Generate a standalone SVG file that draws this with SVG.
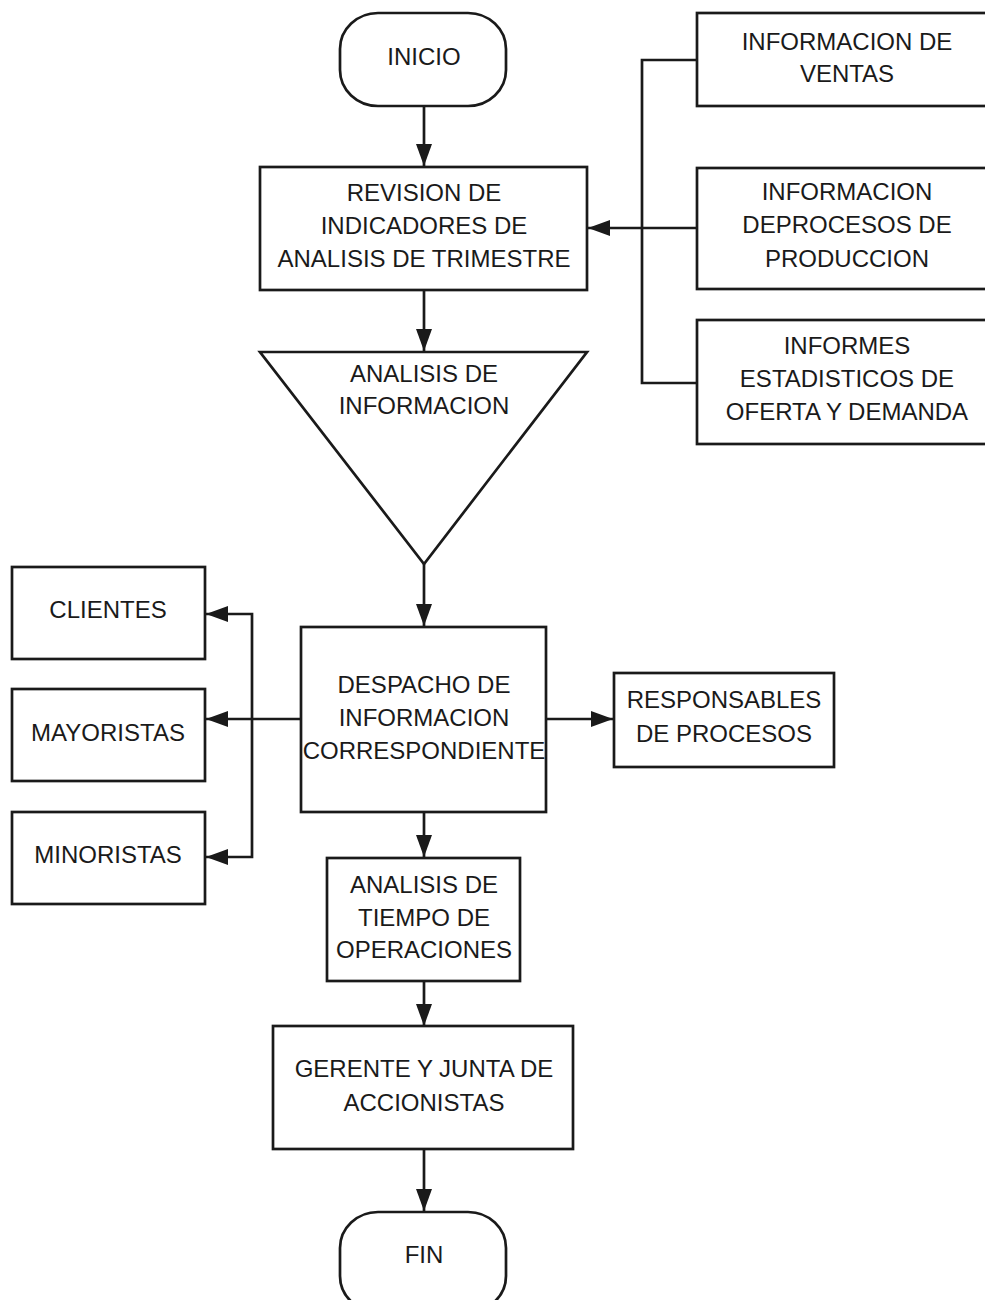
<svg xmlns="http://www.w3.org/2000/svg" width="985" height="1300" viewBox="0 0 985 1300">
<defs>
<style>
.n{fill:#fff;stroke:#1a1a1a;stroke-width:2.7}
.t{font-family:"Liberation Sans",Arial,sans-serif;font-size:24px;fill:#1a1a1a;text-anchor:middle}
.c{fill:none;stroke:#1a1a1a;stroke-width:2.7}
</style>
<marker id="ah" viewBox="0 0 22 16" refX="22" refY="8" markerWidth="22" markerHeight="16" markerUnits="userSpaceOnUse" orient="auto">
<path d="M0,0 L22,8 L0,16 z" fill="#1a1a1a"/>
</marker>
</defs>
<rect width="985" height="1300" fill="#fff"/>
<g id="connectors">
<path class="c" d="M424,106 V166" marker-end="url(#ah)"/>
<path class="c" d="M424,290 V351" marker-end="url(#ah)"/>
<path class="c" d="M424,564 V626" marker-end="url(#ah)"/>
<path class="c" d="M301,719 H206" marker-end="url(#ah)"/>
<path class="c" d="M252,719 V614 H206" marker-end="url(#ah)"/>
<path class="c" d="M252,719 V857 H206" marker-end="url(#ah)"/>
<path class="c" d="M546,719 H613" marker-end="url(#ah)"/>
<path class="c" d="M424,812 V857" marker-end="url(#ah)"/>
<path class="c" d="M424,981 V1026" marker-end="url(#ah)"/>
<path class="c" d="M424,1149 V1211" marker-end="url(#ah)"/>
<path class="c" d="M697,60 H642 V383 H697"/>
<path class="c" d="M697,228 H588" marker-end="url(#ah)"/>
</g>
<g id="inicio">
<rect class="n" x="340" y="13" width="166" height="93" rx="38" ry="36"/>
<text class="t" x="424" y="65">INICIO</text>
</g>
<g id="revision">
<rect class="n" x="260" y="167" width="327" height="123"/>
<text class="t" x="424" y="201">REVISION DE</text>
<text class="t" x="424" y="234">INDICADORES DE</text>
<text class="t" x="424" y="267">ANALISIS DE TRIMESTRE</text>
</g>
<g id="analisis-info">
<path class="n" d="M260,352 L587,352 L424,564 Z"/>
<text class="t" x="424" y="382">ANALISIS DE</text>
<text class="t" x="424" y="414">INFORMACION</text>
</g>
<g id="info-ventas">
<rect class="n" x="697" y="13" width="300" height="93"/>
<text class="t" x="847" y="50">INFORMACION DE</text>
<text class="t" x="847" y="82">VENTAS</text>
</g>
<g id="info-procesos">
<rect class="n" x="697" y="168" width="300" height="121"/>
<text class="t" x="847" y="200">INFORMACION</text>
<text class="t" x="847" y="233">DEPROCESOS DE</text>
<text class="t" x="847" y="267">PRODUCCION</text>
</g>
<g id="informes">
<rect class="n" x="697" y="320" width="300" height="124"/>
<text class="t" x="847" y="354">INFORMES</text>
<text class="t" x="847" y="387">ESTADISTICOS DE</text>
<text class="t" x="847" y="420">OFERTA Y DEMANDA</text>
</g>
<g id="clientes">
<rect class="n" x="12" y="567" width="193" height="92"/>
<text class="t" x="108" y="618">CLIENTES</text>
</g>
<g id="mayoristas">
<rect class="n" x="12" y="689" width="193" height="92"/>
<text class="t" x="108" y="741">MAYORISTAS</text>
</g>
<g id="minoristas">
<rect class="n" x="12" y="812" width="193" height="92"/>
<text class="t" x="108" y="863">MINORISTAS</text>
</g>
<g id="despacho">
<rect class="n" x="301" y="627" width="245" height="185"/>
<text class="t" x="424" y="693">DESPACHO DE</text>
<text class="t" x="424" y="726">INFORMACION</text>
<text class="t" x="424" y="759">CORRESPONDIENTE</text>
</g>
<g id="responsables">
<rect class="n" x="614" y="673" width="220" height="94"/>
<text class="t" x="724" y="708">RESPONSABLES</text>
<text class="t" x="724" y="742">DE PROCESOS</text>
</g>
<g id="tiempo">
<rect class="n" x="327" y="858" width="193" height="123"/>
<text class="t" x="424" y="893">ANALISIS DE</text>
<text class="t" x="424" y="926">TIEMPO DE</text>
<text class="t" x="424" y="958">OPERACIONES</text>
</g>
<g id="gerente">
<rect class="n" x="273" y="1026" width="300" height="123"/>
<text class="t" x="424" y="1077">GERENTE Y JUNTA DE</text>
<text class="t" x="424" y="1111">ACCIONISTAS</text>
</g>
<g id="fin">
<rect class="n" x="340" y="1212" width="166" height="100" rx="38" ry="36"/>
<text class="t" x="424" y="1263">FIN</text>
</g>
</svg>
